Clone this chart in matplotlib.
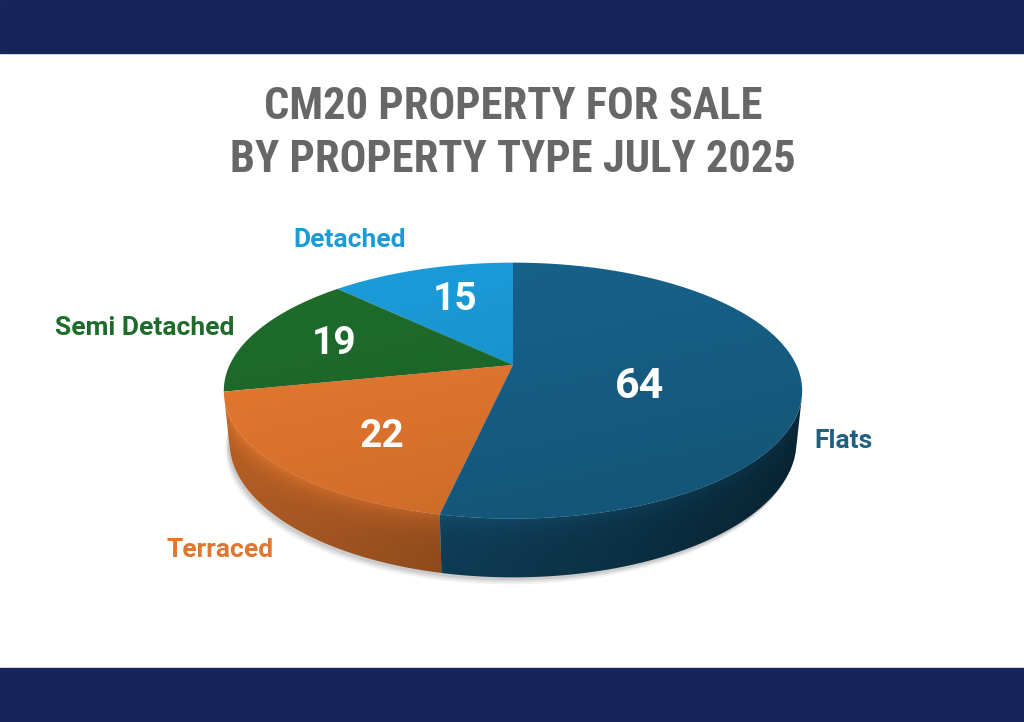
import numpy as np
import matplotlib.pyplot as plt
import matplotlib.colors as mcolors
from matplotlib.patches import Polygon, Rectangle

labels = ['Detached', 'Semi Detached', 'Terraced', 'Flats']
values = [15, 19, 22, 64]
colors = ['#1a9bd8', '#1e6b2c', '#e8792f', '#17628a']
label_colors = ['#1a9bd8', '#1e6b2c', '#e0762f', '#1f5f80']

# simple perspective camera for the 3d disk
el = np.radians(25.7)
D = 4.5
h = 0.2
cam = np.array([0.0, -D * np.cos(el), D * np.sin(el)])
fwd = -cam / np.linalg.norm(cam)
up = np.array([0.0, np.sin(el), np.cos(el)])
cx, cy, K = 513, 365, 1275


def proj(theta, r=1.0, z=0.0):
    theta = np.atleast_1d(theta)
    x = -np.sin(theta) * r
    y = np.cos(theta) * r
    zz = np.full_like(x, z)
    v = np.stack([x - cam[0], y - cam[1], zz - cam[2]])
    depth = fwd @ v
    sx = v[0] / depth
    sy = (up @ v) / depth
    return cx + K * sx, cy - K * sy


fig = plt.figure(figsize=(10.24, 7.22), dpi=100)
ax = fig.add_axes([0, 0, 1, 1])
ax.set_xlim(0, 1024)
ax.set_ylim(722, 0)
ax.axis('off')

ax.add_patch(Rectangle((0, 0), 1024, 53, color='#15245a', zorder=1))
ax.add_patch(Rectangle((0, 668), 1024, 54, color='#15245a', zorder=1))

# faint shadow hugging the bottom rim
full = np.linspace(0, 2 * np.pi, 300)
bx, by = proj(full, z=-h)
for off, a in [(7, 0.05), (5, 0.07), (3, 0.09)]:
    ax.add_patch(Polygon(np.column_stack([bx - off * 0.6, by + off]), closed=True,
                         color='black', alpha=a, lw=0, zorder=2))

fracs = np.array(values) / sum(values)
edges = np.concatenate([[0], np.cumsum(fracs)]) * 2 * np.pi

X0, X1, Y0, Y1 = 215, 815, 255, 600
gx, gy = np.meshgrid(np.linspace(X0, X1, 500), np.linspace(Y0, Y1, 345))

# visible outer wall
vis_lo = np.arccos(-1 / (D * np.cos(el)))
vis_hi = 2 * np.pi - vis_lo
rim_t = np.linspace(vis_lo, vis_hi, 400)
rim_x, rim_y = proj(rim_t, z=0)
dist = np.clip(gy - np.interp(gx, rim_x, rim_y), 0, None)
side_shade = (0.95 - 0.5 * (gx - 228) / 572) * (0.8 + 0.22 * np.exp(-dist / 14))
for i in range(len(values)):
    a0, a1 = max(edges[i], vis_lo), min(edges[i + 1], vis_hi)
    if a1 <= a0:
        continue
    ts = np.linspace(a0, a1, 150)
    tx, ty = proj(ts, z=0)
    bx2, by2 = proj(ts[::-1], z=-h)
    pts = np.column_stack([np.concatenate([tx, bx2]), np.concatenate([ty, by2])])
    poly = Polygon(pts, closed=True, fc='none', lw=0, zorder=3)
    ax.add_patch(poly)
    base = np.array(mcolors.to_rgb(colors[i]))
    img = np.clip(side_shade[..., None] * base, 0, 1)
    im = ax.imshow(img, extent=(X0, X1, Y1, Y0), origin='upper', zorder=3,
                   interpolation='bilinear', aspect='auto')
    im.set_clip_path(poly)

# top surface with a light gradient, clipped to each wedge
top_shade = 1.03 - 0.12 * (gy - Y0) / (530 - Y0) - 0.06 * (gx - X0) / (X1 - X0)
for i in range(len(values)):
    ts = np.linspace(edges[i], edges[i + 1], 120)
    px, py = proj(ts)
    pts = np.vstack([[cx, cy], np.column_stack([px, py])])
    poly = Polygon(pts, closed=True, fc='none', lw=0, zorder=4)
    ax.add_patch(poly)
    base = np.array(mcolors.to_rgb(colors[i]))
    img = np.clip(top_shade[..., None] * base, 0, 1)
    im = ax.imshow(img, extent=(X0, X1, Y1, Y0), origin='upper', zorder=4,
                   interpolation='bilinear', aspect='auto')
    im.set_clip_path(poly)

# value labels on the slices
num_r = [0.62, 0.68, 0.55, 0.45]
num_off = [(2, -2), (-1, 1), (-12, 20), (-1, 16)]
num_size = [28, 28, 28, 31]
for i in range(len(values)):
    mid = 0.5 * (edges[i] + edges[i + 1])
    tx, ty = proj(mid, r=num_r[i])
    ax.text(tx[0] + num_off[i][0], ty[0] + num_off[i][1], str(values[i]),
            color='white', fontsize=num_size[i], fontweight='bold', family='Roboto',
            ha='center', va='center', zorder=6)

# category labels
label_pos = [(350, 240), (145, 328), (220, 550), (843, 441)]
for i in range(len(labels)):
    ax.text(label_pos[i][0], label_pos[i][1], labels[i], color=label_colors[i],
            fontsize=19, fontweight='bold', family='Roboto',
            ha='center', va='center', zorder=6)

title_font = ['Roboto Condensed', 'Roboto']
ax.text(513, 107, 'CM20 PROPERTY FOR SALE', color='#676767', fontsize=32,
        fontweight='bold', family=title_font, ha='center', va='center')
ax.text(513, 160, 'BY PROPERTY TYPE JULY 2025', color='#676767', fontsize=32,
        fontweight='bold', family=title_font, ha='center', va='center')

fig.savefig('out.png', dpi=100)
